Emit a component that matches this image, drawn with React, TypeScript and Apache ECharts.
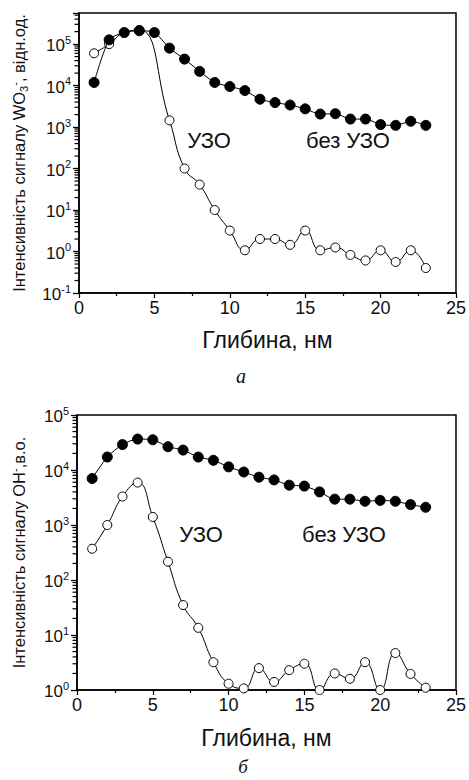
import React, { useEffect, useRef } from "react";
import * as echarts from "echarts";

// Depth, nm
const depth = [1, 2, 3, 4, 5, 6, 7, 8, 9, 10, 11, 12, 13, 14, 15, 16, 17, 18, 19, 20, 21, 22, 23];

// (a) WO3- signal
const woWithout = [1.19e4, 1.27e5, 1.9e5, 2.1e5, 1.9e5, 8.0e4, 4.35e4, 2.2e4, 1.19e4, 9.5e3, 7.6e3, 4.7e3, 3.9e3, 3.4e3, 2.75e3, 2.06e3, 2.1e3, 1.56e3, 1.56e3, 1.15e3, 1.1e3, 1.38e3, 1.1e3];
const woUZO = [6.0e4, 1.0e5, 1.9e5, 2.2e5, null, 1.45e3, 100, 41, 10, 3.2, 1.07, 2.0, 2.0, 1.45, 3.2, 1.07, 1.25, 0.83, 0.61, 1.07, 0.56, 1.07, 0.4];

// (б) OH- signal
const ohWithout = [7.0e3, 1.72e4, 2.9e4, 3.65e4, 3.55e4, 2.65e4, 2.3e4, 1.72e4, 1.5e4, 1.14e4, 9.2e3, 7.4e3, 6.6e3, 5.3e3, 5.1e3, 4.0e3, 2.95e3, 2.95e3, 2.7e3, 2.8e3, 2.7e3, 2.35e3, 2.1e3];
const ohUZO = [370, 1000, 3.3e3, 5.9e3, 1.4e3, 215, 35, 13.5, 3.2, 1.3, 1.07, 2.5, 1.4, 2.3, 3.0, 1.0, 2.0, 1.6, 3.2, 1.0, 4.7, 1.96, 1.1];

// Axis ranges
const xMin = 0;
const xMax = 25;
const xInterval = 5;
const topYMin = 0.1;
const topYMax = Math.pow(10, 5.75);
const botYMin = 1;
const botYMax = 1e5;
const topDecades = [-1, 0, 1, 2, 3, 4, 5];
const botDecades = [0, 1, 2, 3, 4];
const minorMultipliers = [2, 3, 4, 5, 6, 7, 8, 9];

const FONT = "'Liberation Sans', Arial, sans-serif";
const INK = "#111";

const pairs = (ys: (number | null)[]) => depth.map((x, i) => [x, ys[i]]);

const minorTickData = (decades: number[], lo: number, hi: number) => {
  const out: number[][] = [];
  decades.forEach((d) => {
    minorMultipliers.forEach((m) => {
      const v = m * Math.pow(10, d);
      if (v > lo && v < hi) out.push([0, v]);
    });
  });
  return out;
};

const logLabel = (v: number) => {
  const e = Math.log10(v);
  const r = Math.round(e);
  if (Math.abs(e - r) > 1e-6) return "";
  return `{b|10}{s|${r}}`;
};

const labelRich = {
  b: { fontSize: 17, fontFamily: FONT, color: INK, lineHeight: 20, verticalAlign: "bottom" },
  s: { fontSize: 11, fontFamily: FONT, color: INK, lineHeight: 11, verticalAlign: "top" },
};

const nameRich = {
  a: { fontSize: 16.5, fontFamily: FONT, color: INK, lineHeight: 20 },
  sub: { fontSize: 11, fontFamily: FONT, color: INK, lineHeight: 11, verticalAlign: "bottom" },
  sup: { fontSize: 11, fontFamily: FONT, color: INK, lineHeight: 11, verticalAlign: "top" },
};

const xAxisCfg = (gridIndex: number, nameGap: number) => ({
  type: "value",
  gridIndex,
  min: xMin,
  max: xMax,
  interval: xInterval,
  name: "Глибина, нм",
  nameLocation: "middle",
  nameGap,
  nameTextStyle: { fontSize: 23, fontFamily: FONT, color: INK },
  axisLine: { show: true, lineStyle: { color: "#000", width: 1.5 } },
  axisTick: { show: true, length: 5, lineStyle: { color: "#000", width: 1.2 } },
  minorTick: { show: true, splitNumber: 2, length: 3, lineStyle: { color: "#000", width: 1.2 } },
  axisLabel: { fontSize: 18, fontFamily: FONT, color: INK, margin: 6 },
  splitLine: { show: false },
  minorSplitLine: { show: false },
});

const yAxisCfg = (gridIndex: number, min: number, max: number, splitNumber: number, name: string, nameGap: number) => ({
  type: "log",
  logBase: 10,
  gridIndex,
  min,
  max,
  splitNumber,
  name,
  nameLocation: "middle",
  nameGap,
  nameTextStyle: { rich: nameRich, fontSize: 16.5, fontFamily: FONT, color: INK },
  axisLine: { show: true, lineStyle: { color: "#000", width: 1.5 } },
  axisTick: { show: true, length: 6, lineStyle: { color: "#000", width: 1.3 } },
  axisLabel: { formatter: logLabel, rich: labelRich, margin: 8 },
  splitLine: { show: false },
  minorTick: { show: false },
});

const lineSeries = (name: string, ys: (number | null)[], idx: number, filled: boolean, smooth: number) => ({
  type: "line",
  name,
  xAxisIndex: idx,
  yAxisIndex: idx,
  data: pairs(ys),
  connectNulls: true,
  smooth,
  symbol: "circle",
  symbolSize: filled ? 10 : 9,
  z: filled ? 4 : 3,
  lineStyle: { color: "#000", width: 1 },
  itemStyle: { color: filled ? "#000" : "#fff", borderColor: "#000", borderWidth: 1 },
});

const minorSeries = (idx: number, data: number[][]) => ({
  type: "custom",
  xAxisIndex: idx,
  yAxisIndex: idx,
  silent: true,
  clip: false,
  z: 5,
  encode: { x: 0, y: 1 },
  data,
  renderItem: (_p: any, api: any) => {
    const pt = api.coord([api.value(0), api.value(1)]);
    return {
      type: "line",
      shape: { x1: pt[0] - 4.5, y1: pt[1], x2: pt[0], y2: pt[1] },
      style: { stroke: "#000", lineWidth: 1.2 },
    };
  },
});

const annot = (text: string, x: number, y: number, font: string) => ({
  type: "text",
  x,
  y,
  silent: true,
  style: { text, font, fill: INK, align: "center", verticalAlign: "middle" },
});

export default function App() {
  const ref = useRef<HTMLDivElement>(null);
  useEffect(() => {
    if (!ref.current) return;
    const chart = echarts.init(ref.current, null, { renderer: "svg" });
    chart.setOption({
      animation: false,
      backgroundColor: "#fff",
      grid: [
        { left: 79, top: 13, width: 378, height: 280, show: true, borderColor: "#000", borderWidth: 1.5, backgroundColor: "transparent" },
        { left: 77, top: 415, width: 381, height: 275, show: true, borderColor: "#000", borderWidth: 1.5, backgroundColor: "transparent" },
      ],
      xAxis: [xAxisCfg(0, 35), xAxisCfg(1, 36)],
      yAxis: [
        yAxisCfg(0, topYMin, topYMax, 7, "{a|Інтенсивність сигналу WO}{sub|3}{sup|-}{a|, відн.од.}", 50),
        yAxisCfg(1, botYMin, botYMax, 5, "{a|Інтенсивність сигналу OH}{sup|-}{a|,в.о.}", 48),
      ],
      series: [
        minorSeries(0, minorTickData(topDecades, topYMin, topYMax)),
        minorSeries(1, minorTickData(botDecades, botYMin, botYMax)),
        lineSeries("УЗО", woUZO, 0, false, 0.5),
        lineSeries("без УЗО", woWithout, 0, true, 0.25),
        lineSeries("УЗО", ohUZO, 1, false, 0.5),
        lineSeries("без УЗО", ohWithout, 1, true, 0.25),
      ],
      graphic: [
        annot("УЗО", 209, 140, `22px ${FONT}`),
        annot("без УЗО", 348, 140, `22px ${FONT}`),
        annot("УЗО", 201, 534, `22px ${FONT}`),
        annot("без УЗО", 344, 534, `22px ${FONT}`),
        annot("а", 241, 376, `italic 20px 'Liberation Serif', serif`),
        annot("б", 243, 766, `italic 19px 'Liberation Serif', serif`),
      ],
    });
    return () => chart.dispose();
  }, []);
  return <div ref={ref} style={{ position: "absolute", left: 0, top: 0, width: 469, height: 780 }} />;
}
